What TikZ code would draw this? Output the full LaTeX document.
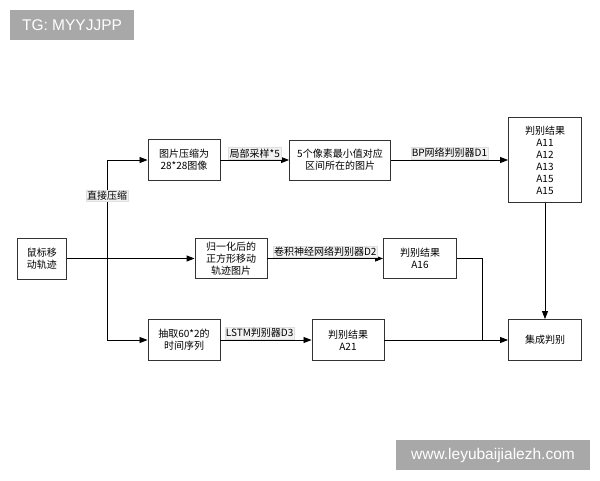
\documentclass[tikz,border=0pt]{standalone}
\usepackage{fontspec}
\setmainfont{Noto Sans CJK SC}
\newfontfamily\wmfont{Liberation Sans}
\usetikzlibrary{arrows.meta}

\begin{document}
\begin{tikzpicture}[x=1pt,y=-1pt,font=\fontsize{10}{12}\selectfont,
    box/.style={draw=black!80, line width=0.9pt, align=center, inner sep=0pt},
    lbl/.style={fill=gray!10, draw=gray!25, line width=0.3pt, inner sep=1pt},
    wm/.style={fill=black!34, text=white, font=\wmfont\fontsize{15.5}{18}\selectfont, inner sep=0pt},
    arr/.style={-{Triangle[length=8pt,width=6pt]}, line width=0.8pt}]

    \useasboundingbox (0,0) rectangle (600,480);

    % boxes
    \node[box, minimum width=49pt, minimum height=41pt] (mouse) at (42,258.5) {鼠标移\\动轨迹};

    \node[box, minimum width=72pt, minimum height=41pt] (compress) at (184,160) {图片压缩为\\28*28图像};
    \node[box, minimum width=101pt, minimum height=40pt] (minpix) at (340,160) {5个像素最小值对应\\区间所在的图片};
    \node[box, minimum width=73pt, minimum height=85pt] (resA) at (545,160) {判别结果\\A11\\A12\\A13\\A15\\A15};

    \node[box, minimum width=72pt, minimum height=40pt] (norm) at (231,258.5) {归一化后的\\正方形移动\\轨迹图片};
    \node[box, minimum width=73pt, minimum height=40pt] (resB) at (420,258.5) {判别结果\\A16};

    \node[box, minimum width=72pt, minimum height=41pt] (seq) at (184,340) {抽取60*2的\\时间序列};
    \node[box, minimum width=72pt, minimum height=41pt] (resC) at (348,340) {判别结果\\A21};
    \node[box, minimum width=73pt, minimum height=41pt] (final) at (545,340) {集成判别};

    % branch points
    \coordinate (split) at (107,258.5);
    \coordinate (join) at (482,340);

    % connectors
    \draw[arr, line width=1.1pt] (mouse.east) -- (norm.west);
    \draw[arr] (split) |- (compress.west);
    \draw[arr] (split) |- (seq.west);

    \draw[arr] (compress) -- node[lbl, above=1pt] (samplelbl) {局部采样*5} (minpix);
    \draw[arr] (minpix) -- node[lbl, above=1pt] (bplbl) {BP网络判别器D1} (resA);
    \draw[arr] (norm) -- node[lbl, above=1pt] (cnnlbl) {卷积神经网络判别器D2} (resB);
    \draw[arr] (seq) -- node[lbl, above=1pt, pos=0.43] (lstmlbl) {LSTM判别器D3} (resC);

    \draw[line width=0.8pt] (resB.east) -| (join);
    \draw[arr] (resC) -- (final);
    \draw[arr] (resA) -- (final);

    \node[lbl] (directlbl) at (107,196) {直接压缩};

    % watermarks
    \node[wm, minimum width=124pt, minimum height=30pt] (tgmark) at (72,25) {TG: MYYJJPP};
    \node[wm, minimum width=194pt, minimum height=30pt] (urlmark) at (493,455) {www.leyubaijialezh.com};

\end{tikzpicture}
\end{document}
